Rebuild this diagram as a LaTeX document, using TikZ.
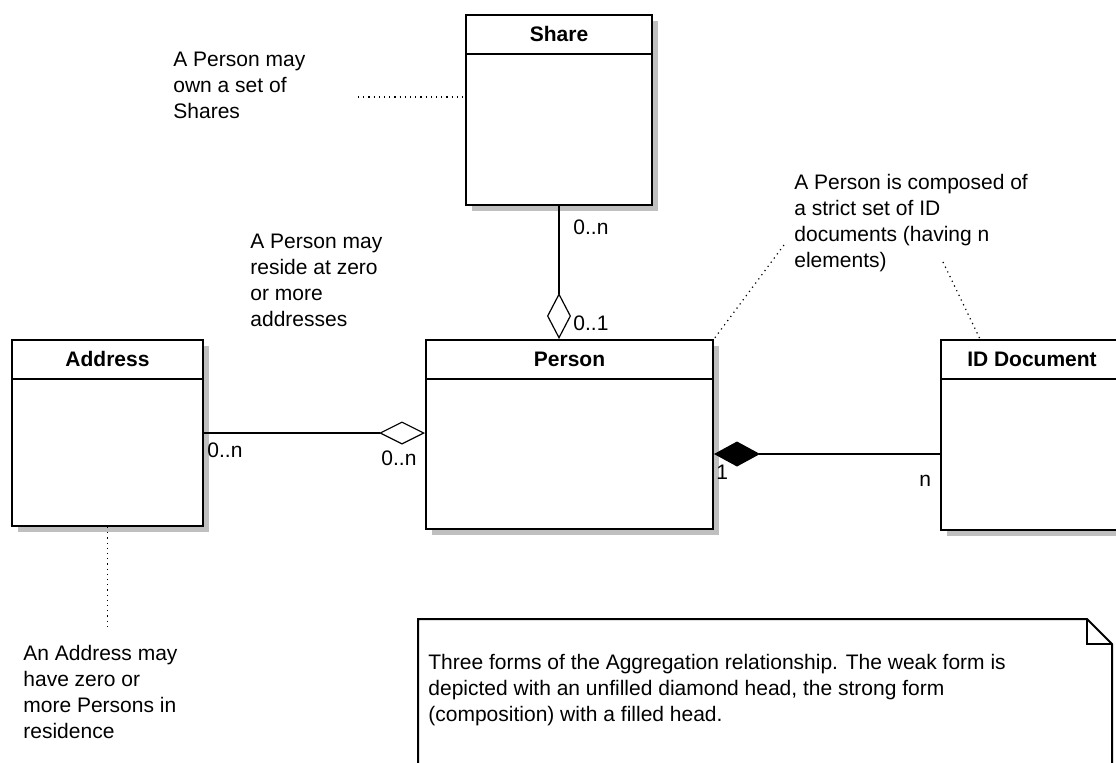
\documentclass[tikz,border=0pt]{standalone}
\usepackage{fontspec}
\setmainfont{Liberation Sans}
\usetikzlibrary{arrows.meta,shadows}

\begin{document}
\begin{tikzpicture}[x=0.5pt, y=-0.5pt,
        umlclass/.style={draw, line width=1pt, fill=white, anchor=north west, inner sep=0pt,
            drop shadow={shadow xshift=3pt, shadow yshift=-3pt, fill=black!25, opacity=1}},
        classname/.style={font=\fontsize{10.5}{13}\selectfont\bfseries, inner sep=0pt},
        remark/.style={font=\fontsize{10.5}{13}\selectfont, align=left, anchor=north west, inner sep=0pt},
        mult/.style={font=\fontsize{10.5}{13}\selectfont, anchor=west, inner sep=0pt},
        assoc/.style={line width=0.6pt},
        anchorline/.style={dotted, line width=0.6pt}]
        \useasboundingbox (0,0) rectangle (1116,762);

        % classes
        \node[umlclass, minimum width=93pt, minimum height=95pt] (share) at (465,14) {};
        \node[umlclass, minimum width=95.5pt, minimum height=93pt] (address) at (11,339) {};
        \node[umlclass, minimum width=143.5pt, minimum height=94.5pt] (person) at (425,339) {};
        \node[umlclass, minimum width=91pt, minimum height=95pt] (iddoc) at (940,339) {};
        \foreach \c/\t in {share/Share, address/Address, person/Person, iddoc/ID Document} {
            \draw[line width=1pt] ([yshift=-20pt]\c.north west) -- ([yshift=-20pt]\c.north east);
            \node[classname] (\c-name) at ([yshift=-10pt]\c.north) {\t};
        }

        % aggregations
        \draw[assoc, {Diamond[open, length=23pt, width=12pt]}-] (share.south |- person.north) -- (share.south);
        \draw[assoc, -{Diamond[open, length=23pt, width=11.5pt]}] (address.east) -- (address.east -| person.west);
        \draw[assoc, {Diamond[length=23pt, width=12.5pt]}-] ([yshift=-9.75pt]person.east) -- ([yshift=-9.75pt]person.east -| iddoc.west);

        % multiplicities
        \node[mult] (shareMult) at (573,227) {0..n};
        \node[mult] (personShareMult) at (573,323) {0..1};
        \node[mult] (addressMult) at (207,450) {0..n};
        \node[mult] (personAddrMult) at (381,458) {0..n};
        \node[mult] (personDocMult) at (716,472) {1};
        \node[mult] (iddocMult) at (919,481) {n};

        % remarks
        \node[remark] (shareNote) at (173,52) {A Person may\\own a set of\\Shares};
        \node[remark] (resideNote) at (250,234) {A Person may\\reside at zero\\or more\\addresses};
        \node[remark] (composedNote) at (794,174) {A Person is composed of\\a strict set of ID\\documents (having n\\elements)};
        \node[remark] (addressNote) at (23,645) {An Address may\\have zero or\\more Persons in\\residence};
        \coordinate (shareLink) at (358,97);
        \draw[anchorline] (shareLink) -- (shareLink -| share.west);
        \coordinate (addressLink) at (105,630);
        \draw[anchorline] (address.south) -- (address.south |- addressLink);
        \coordinate (personLink) at (784,245);
        \draw[anchorline] (personLink) -- (person.north east);
        \coordinate (iddocLink) at (943,262);
        \draw[anchorline] (iddocLink) -- ([xshift=20pt]iddoc.north west);

        % summary note with folded corner
        \draw[line width=1pt, fill=white] (418,619) -- (1087,619) -- (1112,644) -- (1112,775) -- (418,775) -- cycle;
        \draw[line width=1pt] (1087,619) -- (1087,644) -- (1112,644);
        \node[remark] (summary) at (428,654) {Three forms of the Aggregation relationship. The weak form is\\depicted with an unfilled diamond head, the strong form\\(composition) with a filled head.};
    \end{tikzpicture}
\end{document}
